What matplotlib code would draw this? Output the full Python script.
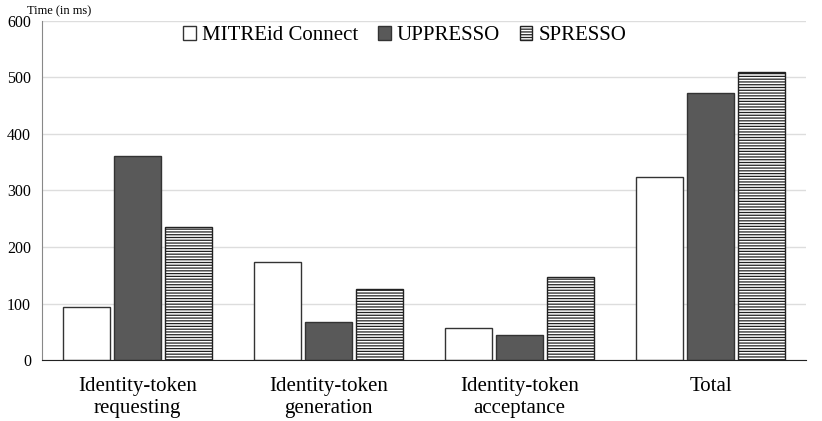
import matplotlib
matplotlib.use("Agg")
import matplotlib.pyplot as plt
import numpy as np

categories = ["Identity-token\nrequesting", "Identity-token\ngeneration", "Identity-token\nacceptance", "Total"]
series_names = ["MITREid Connect", "UPPRESSO", "SPRESSO"]
mitre = [94, 173, 57, 324]
uppresso = [361, 67, 44, 472]
spresso = [235, 126, 147, 510]
yticks = [0, 100, 200, 300, 400, 500, 600]

plt.rcParams['font.family'] = ['Liberation Serif', 'DejaVu Serif']
plt.rcParams['hatch.linewidth'] = 0.9

fig = plt.figure(figsize=(8.22, 4.21), dpi=100)
ax = fig.add_axes([42/822, 1-360/421, (806-42)/822, (360-21)/421])

x = np.arange(len(categories))
w = 0.246
gap = 0.021
offs = [-(w+gap), 0, (w+gap)]
styles = [dict(facecolor='white', edgecolor='#333333', hatch=None),
          dict(facecolor='#595959', edgecolor='#333333', hatch=None),
          dict(facecolor='white', edgecolor='#222222', hatch='------')]
for vals, name, off, st in zip([mitre, uppresso, spresso], series_names, offs, styles):
    ax.bar(x + off, vals, w, label=name, linewidth=1.0, **st)

ax.set_xlim(-0.5, len(categories)-0.5)
ax.set_ylim(0, 600)
ax.set_yticks(yticks)
ax.set_xticks(x)
ax.set_xticklabels(categories, fontsize=15, linespacing=1.25)
ax.tick_params(axis='y', labelsize=11.5, length=0, pad=8)
ax.tick_params(axis='x', length=0, pad=12)
ax.grid(axis='y', color='#dddddd', linewidth=1)
ax.set_axisbelow(True)
for s in ['top', 'right']:
    ax.spines[s].set_visible(False)
ax.spines['left'].set_color('#888888')
ax.spines['bottom'].set_color('#222222')

ax.text(-0.02, 1.012, "Time (in ms)", transform=ax.transAxes, fontsize=9, ha='left', va='bottom')
ax.legend(loc='upper center', bbox_to_anchor=(0.475, 1.015), ncol=3, frameon=False,
          fontsize=15, handlelength=0.6, handleheight=0.6, handletextpad=0.3,
          columnspacing=0.95, borderaxespad=0.1)

fig.savefig("out.png", dpi=100)
